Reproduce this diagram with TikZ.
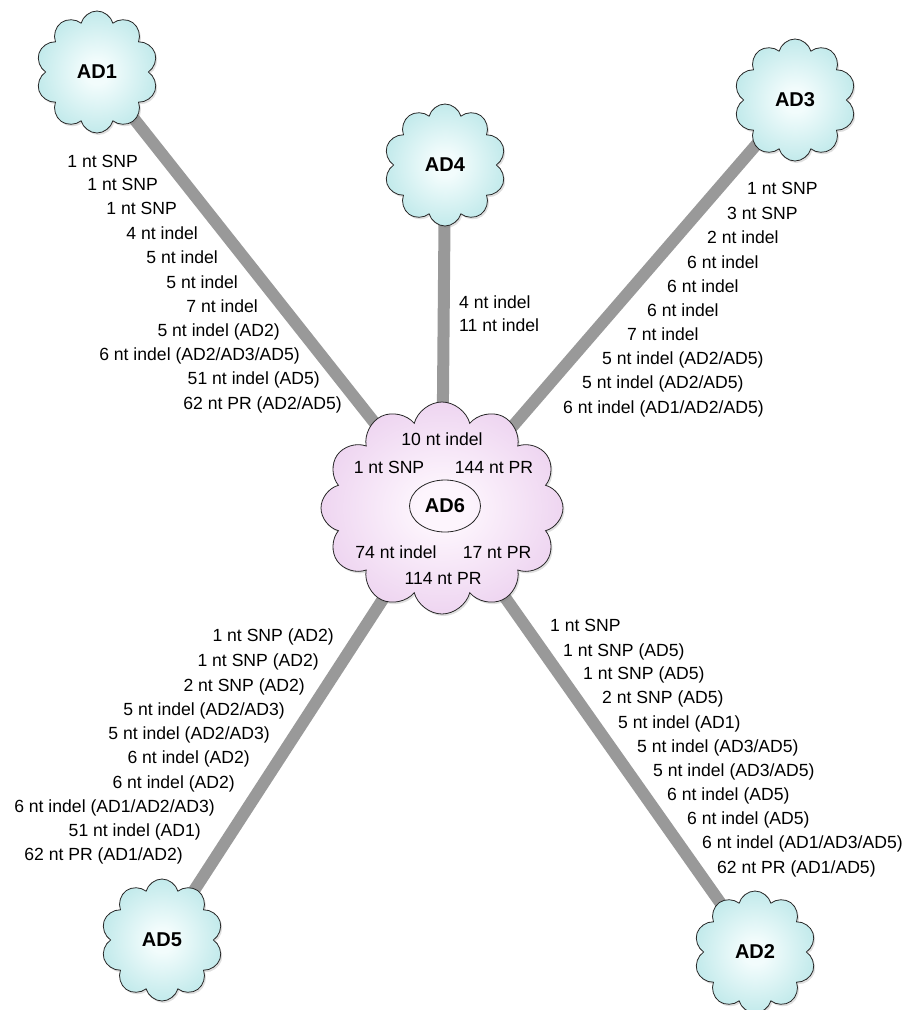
\documentclass[tikz,border=0pt]{standalone}
\usepackage{fontspec}
\setmainfont{Liberation Sans}
\usetikzlibrary{shapes.symbols,shapes.geometric,shadows}
\definecolor{cyanE}{RGB}{168,224,226}
\definecolor{cyanC}{RGB}{242,252,252}
\definecolor{pinkE}{RGB}{230,196,234}
\definecolor{pinkC}{RGB}{253,245,253}
\definecolor{linkgray}{RGB}{153,153,153}
\pgfdeclareradialshading{cyanshade}{\pgfpoint{0bp}{0bp}}{color(0bp)=(cyanC); color(5bp)=(cyanC); color(36bp)=(cyanE); color(50bp)=(cyanE)}
\pgfdeclareradialshading{pinkshade}{\pgfpoint{0bp}{0bp}}{color(0bp)=(pinkC); color(5bp)=(pinkC); color(36bp)=(pinkE); color(50bp)=(pinkE)}
\pgfdeclarelayer{bg}
\pgfsetlayers{bg,main}
\begin{document}
\begin{tikzpicture}[x=1pt,y=-1pt,
  cloudnode/.style={cloud, cloud puffs=10, cloud puff arc=150, aspect=1,
    draw=black!85, line width=0.8pt, shade, shading=cyanshade,
    minimum width=122pt, minimum height=122pt, inner sep=0pt,
    font=\fontsize{20}{24}\selectfont\bfseries,
    drop shadow={opacity=0.25, shadow xshift=1.5pt, shadow yshift=-2pt}},
  centercloud/.style={cloudnode, cloud puffs=12, aspect=1.14, shading=pinkshade,
    minimum width=242pt, minimum height=212pt},
  lbl/.style={font=\fontsize{17.6}{20}\selectfont, inner sep=0pt},
  link/.style={draw=linkgray, line width=12pt}]
\useasboundingbox (0,0) rectangle (917,1010);

% clouds
\node[cloudnode] (AD1) at (97,72) {AD1};
\node[cloudnode] (AD4) at (445,165) {AD4};
\node[cloudnode] (AD3) at (795,100) {AD3};
\node[cloudnode] (AD5) at (162,940) {AD5};
\node[cloudnode] (AD2) at (755,952) {AD2};
\node[centercloud] (AD6) at (442,508) {};
\node[ellipse, draw=black!85, line width=0.8pt, minimum width=71pt, minimum height=52pt, inner sep=0pt,
  font=\fontsize{20}{24}\selectfont\bfseries] (AD6e) at (445,506) {AD6};

% connectors
\begin{pgfonlayer}{bg}
\draw[link] (AD1.center) -- (AD6.center);
\draw[link] (AD4.center) -- (AD6.center);
\draw[link] (AD3.center) -- (AD6.center);
\draw[link] (AD5.center) -- (AD6.center);
\draw[link] (AD2.center) -- (AD6.center);
\end{pgfonlayer}

% AD6 inner labels
\node[lbl, anchor=base] (c1) at (442,445) {10 nt indel};
\node[lbl, anchor=base] (c2) at (389,473) {1 nt SNP};
\node[lbl, anchor=base] (c3) at (494,473) {144 nt PR};
\node[lbl, anchor=base] (c4) at (396,558) {74 nt indel};
\node[lbl, anchor=base] (c5) at (497,558) {17 nt PR};
\node[lbl, anchor=base] (c6) at (443,584) {114 nt PR};

% AD1 branch
\node[lbl, anchor=base east] (a1) at (138,167) {1 nt SNP};
\node[lbl, anchor=base east] (a2) at (158,190) {1 nt SNP};
\node[lbl, anchor=base east] (a3) at (177,214) {1 nt SNP};
\node[lbl, anchor=base east] (a4) at (198,239) {4 nt indel};
\node[lbl, anchor=base east] (a5) at (218,263) {5 nt indel};
\node[lbl, anchor=base east] (a6) at (238,288) {5 nt indel};
\node[lbl, anchor=base east] (a7) at (258,312) {7 nt indel};
\node[lbl, anchor=base east] (a8) at (280,336) {5 nt indel (AD2)};
\node[lbl, anchor=base east] (a9) at (300,360) {6 nt indel (AD2/AD3/AD5)};
\node[lbl, anchor=base east] (a10) at (320,384) {51 nt indel (AD5)};
\node[lbl, anchor=base east] (a11) at (342,409) {62 nt PR (AD2/AD5)};

% AD4 branch
\node[lbl, anchor=base west] (d1) at (459,308) {4 nt indel};
\node[lbl, anchor=base west] (d2) at (459,331) {11 nt indel};

% AD3 branch
\node[lbl, anchor=base west] (b1) at (747,194) {1 nt SNP};
\node[lbl, anchor=base west] (b2) at (727,219) {3 nt SNP};
\node[lbl, anchor=base west] (b3) at (707,243) {2 nt indel};
\node[lbl, anchor=base west] (b4) at (687,268) {6 nt indel};
\node[lbl, anchor=base west] (b5) at (667,292) {6 nt indel};
\node[lbl, anchor=base west] (b6) at (647,316) {6 nt indel};
\node[lbl, anchor=base west] (b7) at (627,340) {7 nt indel};
\node[lbl, anchor=base west] (b8) at (602,364) {5 nt indel (AD2/AD5)};
\node[lbl, anchor=base west] (b9) at (582,388) {5 nt indel (AD2/AD5)};
\node[lbl, anchor=base west] (b10) at (563,413) {6 nt indel (AD1/AD2/AD5)};

% AD5 branch
\node[lbl, anchor=base east] (e1) at (334,641) {1 nt SNP (AD2)};
\node[lbl, anchor=base east] (e2) at (319,666) {1 nt SNP (AD2)};
\node[lbl, anchor=base east] (e3) at (305,691) {2 nt SNP (AD2)};
\node[lbl, anchor=base east] (e4) at (285,715) {5 nt indel (AD2/AD3)};
\node[lbl, anchor=base east] (e5) at (270,739) {5 nt indel (AD2/AD3)};
\node[lbl, anchor=base east] (e6) at (250,763) {6 nt indel (AD2)};
\node[lbl, anchor=base east] (e7) at (235,788) {6 nt indel (AD2)};
\node[lbl, anchor=base east] (e8) at (215,812) {6 nt indel (AD1/AD2/AD3)};
\node[lbl, anchor=base east] (e9) at (201,836) {51 nt indel (AD1)};
\node[lbl, anchor=base east] (e10) at (183,860) {62 nt PR (AD1/AD2)};

% AD2 branch
\node[lbl, anchor=base west] (f1) at (550,631) {1 nt SNP};
\node[lbl, anchor=base west] (f2) at (563,656) {1 nt SNP (AD5)};
\node[lbl, anchor=base west] (f3) at (583,679) {1 nt SNP (AD5)};
\node[lbl, anchor=base west] (f4) at (602,703) {2 nt SNP (AD5)};
\node[lbl, anchor=base west] (f5) at (618,728) {5 nt indel (AD1)};
\node[lbl, anchor=base west] (f6) at (637,752) {5 nt indel (AD3/AD5)};
\node[lbl, anchor=base west] (f7) at (653,776) {5 nt indel (AD3/AD5)};
\node[lbl, anchor=base west] (f8) at (667,800) {6 nt indel (AD5)};
\node[lbl, anchor=base west] (f9) at (687,824) {6 nt indel (AD5)};
\node[lbl, anchor=base west] (f10) at (702,848) {6 nt indel (AD1/AD3/AD5)};
\node[lbl, anchor=base west] (f11) at (717,873) {62 nt PR (AD1/AD5)};
\end{tikzpicture}
\end{document}
